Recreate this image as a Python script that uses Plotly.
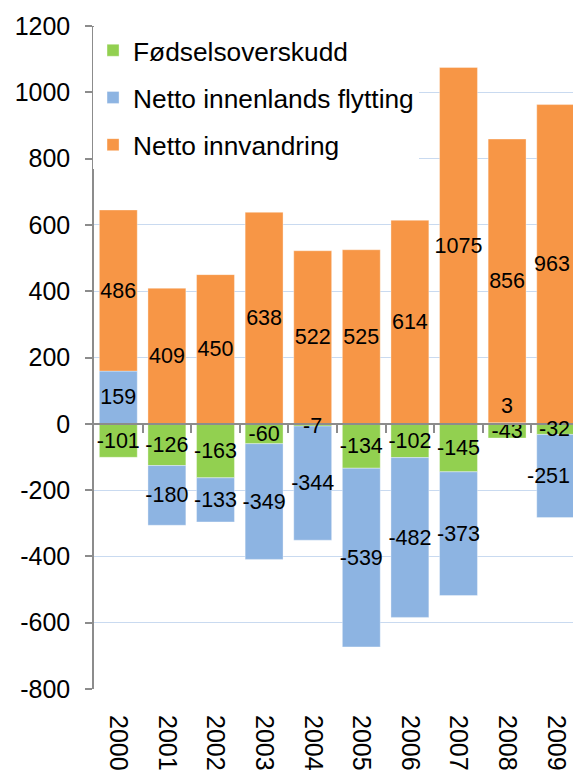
import plotly.graph_objects as go

years = ["2000", "2001", "2002", "2003", "2004", "2005", "2006", "2007", "2008", "2009"]
fodsel = [-101, -126, -163, -60, -7, -134, -102, -145, -43, -32]
innenlands = [159, -180, -133, -349, -344, -539, -482, -373, 3, -251]
innvandring = [486, 409, 450, 638, 522, 525, 614, 1075, 856, 963]
y_ticks = [-800, -600, -400, -200, 0, 200, 400, 600, 800, 1000, 1200]

names = ["Fødselsoverskudd", "Netto innenlands flytting", "Netto innvandring"]
colors = ["#92D050", "#8DB4E2", "#F79646"]
series = [fodsel, innenlands, innvandring]

FONT = "Liberation Sans, Arial, sans-serif"
LABEL_FONT = dict(family=FONT, size=21.5, color="black")
W, H = 573, 774
ML, MR, MT = 94, 0, 26
MB = H - MT - 663.3
x_hi = -0.5 + (W - ML - MR) / 48.6
y_lo, y_hi = y_ticks[0], y_ticks[-1]

fig = go.Figure()
annotations = []
pos_base = [0] * len(years)
neg_base = [0] * len(years)
last = len(years) - 1
for name, col, vals in zip(names, colors, series):
    texts = []
    for i, v in enumerate(vals):
        base = pos_base[i] if v >= 0 else neg_base[i]
        mid = base + v / 2
        if v >= 0:
            pos_base[i] += v
        else:
            neg_base[i] += v
        if abs(v) < 10:
            # tiny segment: label placed next to the bar end, as in the original
            texts.append("")
            annotations.append(dict(x=i, y=(base + v if v > 0 else mid), text=str(v),
                                    showarrow=False, yshift=(17 if v > 0 else -1),
                                    xref="x", yref="y", font=LABEL_FONT))
        elif i == last:
            # label at the clipped right edge: kept inside the chart
            texts.append("")
            annotations.append(dict(x=1, y=mid, text=str(v), showarrow=False,
                                    xref="paper", yref="y", xanchor="right", xshift=-1,
                                    font=LABEL_FONT))
        else:
            texts.append(str(v))
    fig.add_trace(go.Bar(
        x=years, y=vals, name=name, legendgroup=name,
        marker=dict(color=col, line=dict(color="rgba(255,255,255,0.35)", width=1)),
        text=texts, textposition="inside", insidetextanchor="middle",
        textangle=0, constraintext="none",
        textfont=LABEL_FONT,
        cliponaxis=False,
    ))

# helper axis drawing the category axis line at zero with boundary ticks
fig.add_trace(go.Scatter(x=[], y=[], xaxis="x2", showlegend=False, hoverinfo="skip"))

fig.update_layout(
    width=W, height=H,
    margin=dict(l=ML, r=MR, t=MT, b=MB, pad=0),
    barmode="relative", bargap=0.22,
    plot_bgcolor="white", paper_bgcolor="white",
    font=dict(family=FONT, color="black"),
    uniformtext=dict(mode="show", minsize=21),
    showlegend=True,
    legend=dict(x=-0.002, y=0.999, xanchor="left", yanchor="top",
                traceorder="grouped", tracegroupgap=10,
                bgcolor="white", font=dict(family=FONT, size=26.3, color="black")),
    xaxis=dict(type="category", range=[-0.5, x_hi], showgrid=False, showline=False,
               zeroline=False, ticks="", tickangle=90, ticklabelstandoff=25,
               tickfont=dict(family=FONT, size=25, color="black")),
    xaxis2=dict(overlaying="x", anchor="free", position=(0 - y_lo) / (y_hi - y_lo),
                range=[-0.5, x_hi],
                tickvals=[i + 0.5 for i in range(len(years))], showticklabels=False,
                ticks="outside", ticklen=8, tickcolor="#8C8C8C", tickwidth=1.5,
                showline=True, linecolor="#8C8C8C", linewidth=1.5,
                showgrid=False, zeroline=False),
    yaxis=dict(range=[y_lo, y_hi], tickvals=y_ticks, ticktext=[str(v) for v in y_ticks],
               showgrid=True, gridcolor="#C9DAF0", gridwidth=1.3, zeroline=False,
               showline=True, linecolor="#8C8C8C", linewidth=1.5,
               ticks="outside", ticklen=7, tickcolor="#8C8C8C", tickwidth=1.5,
               ticklabelstandoff=10,
               tickfont=dict(family=FONT, size=25, color="black")),
    annotations=annotations,
)

fig.write_html(
    "out.html",
    config={"displayModeBar": False},
    post_script="document.body.style.margin='0';document.body.style.overflow='hidden';",
)
